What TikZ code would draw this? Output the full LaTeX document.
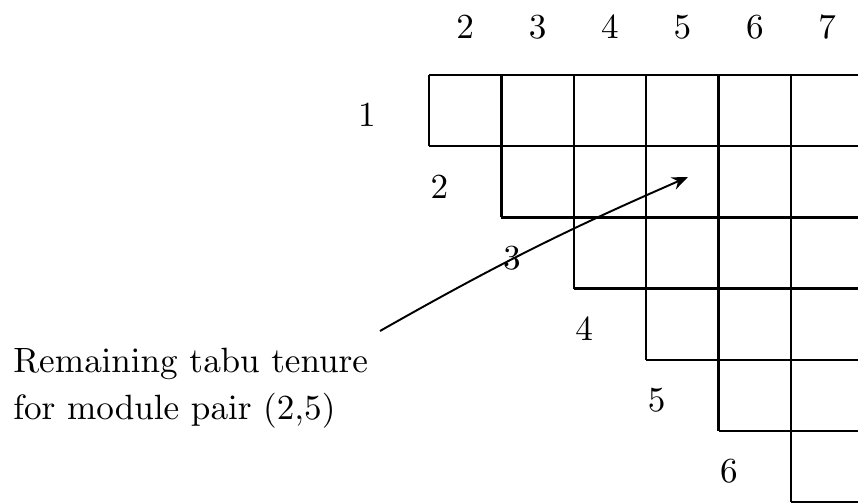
\documentclass[tikz,border=0pt]{standalone}
\usepackage{tikz}
\usetikzlibrary{arrows.meta}
\font\scanrm=cmr10 at 20pt

\begin{document}
\begin{tikzpicture}[
	gridline/.style={line width=1.4pt},
	lbl/.style={font={\fontsize{20}{26.7}\selectfont\scanrm}, inner sep=0pt}
	]
	\useasboundingbox (0,0) rectangle (17.16,10.08);
	% staircase of cells (right side runs off the page)
	\foreach \j in {0,...,5} {
		\draw[gridline] ({8.58+\j*1.448},8.58) -- ({8.58+\j*1.448},{8.58-(\j+1)*1.424});
	}
	\foreach \k in {0,...,6} {
		\pgfmathsetmacro{\xs}{8.58+max(\k-1,0)*1.448}
		\draw[gridline] (\xs,{8.58-\k*1.424}) -- (17.16,{8.58-\k*1.424});
	}
	% column labels
	\foreach \c in {2,...,7} {
		\node[lbl] (col\c) at ({8.58+(\c-1.5)*1.448},9.54) {\c};
	}
	% row labels
	\foreach \r in {1,...,6} {
		\node[lbl] (row\r) at ({8.58+(\r-1)*1.448-1.24},{8.58-(\r-0.5)*1.424-0.1}) {\r};
	}
	% remark and arrow into cell (2,5)
	\node[lbl, align=left, anchor=west] (note) at (0.26,2.31) {Remaining tabu tenure\\for module pair (2,5)};
	\coordinate (tail) at (7.6,3.46);
	\coordinate (tip) at (13.76,6.54);
	\draw[line width=1.1pt, -{Stealth[length=3.2mm,width=2.6mm]}] (tail) to[bend left=3] (tip);
\end{tikzpicture}
\end{document}
